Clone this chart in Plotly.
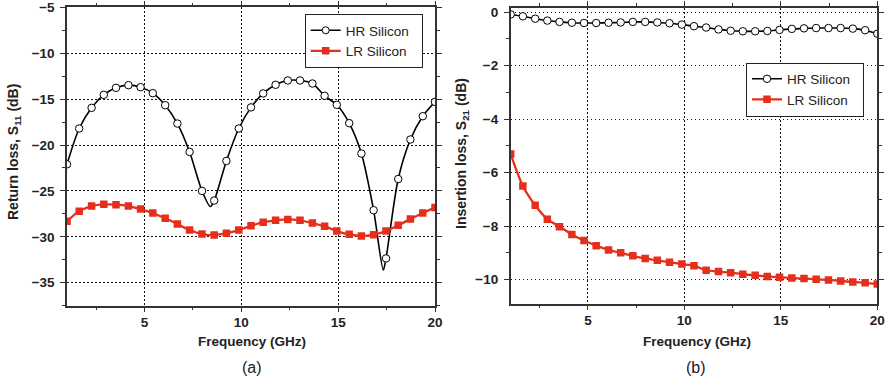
import plotly.graph_objects as go

# ---------------- data ----------------
freq = [1.0, 1.63, 2.27, 2.9, 3.53, 4.17, 4.8, 5.43, 6.07, 6.7, 7.33, 7.97, 8.6, 9.23, 9.87,
        10.5, 11.13, 11.77, 12.4, 13.03, 13.67, 14.3, 14.93, 15.57, 16.2, 16.83, 17.47,
        18.1, 18.73, 19.37, 20.0]

hr_s11 = [-22.1, -18.2, -15.95, -14.53, -13.77, -13.48, -13.7, -14.35, -15.66, -17.66,
          -20.75, -25.0, -26.05, -21.73, -18.2, -15.9, -14.38, -13.44, -12.97, -12.97,
          -13.3, -14.64, -15.62, -17.62, -20.93, -27.1, -32.35, -23.7, -19.4, -16.86, -15.3]
# curve minima between markers
hr_s11_dip_freq = [8.4, 17.33]
hr_s11_dip_val = [-26.7, -33.6]

lr_s11 = [-28.3, -27.2, -26.65, -26.46, -26.5, -26.65, -26.97, -27.4, -27.98, -28.6,
          -29.26, -29.7, -29.8, -29.6, -29.26, -28.8, -28.4, -28.2, -28.1, -28.2,
          -28.5, -28.86, -29.37, -29.73, -29.9, -29.77, -29.37, -28.75, -28.06, -27.4, -26.8]

hr_s21 = [-0.09, -0.16, -0.25, -0.32, -0.37, -0.4, -0.41, -0.41, -0.4, -0.39, -0.37,
          -0.37, -0.39, -0.42, -0.47, -0.53, -0.58, -0.65, -0.7, -0.72, -0.72, -0.71,
          -0.67, -0.63, -0.61, -0.6, -0.6, -0.6, -0.62, -0.68, -0.81]

lr_s21 = [-5.31, -6.5, -7.22, -7.74, -8.02, -8.31, -8.54, -8.73, -8.89, -9.0, -9.11,
          -9.21, -9.28, -9.35, -9.42, -9.48, -9.65, -9.70, -9.74, -9.80, -9.84, -9.88,
          -9.91, -9.94, -9.96, -9.99, -10.01, -10.05, -10.09, -10.12, -10.16]

x_ticks = [5, 10, 15, 20]
x_ticklabels = ["5", "10", "15", "20"]
s11_ticks = [-35, -30, -25, -20, -15, -10, -5]
s11_ticklabels = ["\u221235", "\u221230", "\u221225", "\u221220", "\u221215", "\u221210", "\u22125"]
s21_ticks = [-10, -8, -6, -4, -2, 0]
s21_ticklabels = ["\u221210", "\u22128", "\u22126", "\u22124", "\u22122", "0"]

RED = "#e62e1d"
FONT = "Liberation Sans, Arial, sans-serif"
PAD = "\u00a0\u00a0"

# merge the dip points into the HR S11 line
pairs = sorted([(f, v, 7.5) for f, v in zip(freq, hr_s11)] +
               [(f, v, 0) for f, v in zip(hr_s11_dip_freq, hr_s11_dip_val)])
hr_x = [p[0] for p in pairs]
hr_y = [p[1] for p in pairs]
hr_sz = [p[2] for p in pairs]

fig = go.Figure()

fig.add_trace(go.Scatter(x=hr_x, y=hr_y, mode="lines+markers", name="HR Silicon" + PAD,
                         line=dict(color="black", width=1.6, shape="spline", smoothing=0.8),
                         marker=dict(symbol="circle", size=hr_sz, color="white", opacity=1,
                                     line=dict(color="black", width=1)),
                         xaxis="x", yaxis="y", legend="legend"))
fig.add_trace(go.Scatter(x=freq, y=lr_s11, mode="lines+markers", name="LR Silicon" + PAD,
                         line=dict(color=RED, width=2.3, shape="spline", smoothing=0.8),
                         marker=dict(symbol="square", size=7.5, color=RED),
                         xaxis="x", yaxis="y", legend="legend"))
fig.add_trace(go.Scatter(x=freq, y=hr_s21, mode="lines+markers", name="HR Silicon" + PAD,
                         line=dict(color="black", width=1.6, shape="spline", smoothing=0.8),
                         marker=dict(symbol="circle", size=7.5, color="white",
                                     line=dict(color="black", width=1)),
                         xaxis="x2", yaxis="y2", legend="legend2"))
fig.add_trace(go.Scatter(x=freq, y=lr_s21, mode="lines+markers", name="LR Silicon" + PAD,
                         line=dict(color=RED, width=2.3, shape="spline", smoothing=0.8),
                         marker=dict(symbol="square", size=7.5, color=RED),
                         xaxis="x2", yaxis="y2", legend="legend2"))

W, H = 893, 382
def px(xp):
    return xp / W
def py(yp):
    return 1 - yp / H

def bold(lst):
    return ["<b>%s</b>" % s for s in lst]

axis_common = dict(showline=True, linecolor="#333333", linewidth=1.5, mirror="allticks",
                   ticks="outside", ticklen=5, tickwidth=1.2, tickcolor="#333333",
                   showgrid=True, gridcolor="#111111", griddash="1.5px,2.5px", gridwidth=1.2,
                   zeroline=False, automargin=False,
                   tickfont=dict(family=FONT, size=13.5, color="#222222"))

minor_common = dict(ticks="outside", ticklen=3, tickcolor="#333333", tickwidth=1.2,
                    showgrid=False)

fig.update_layout(
    width=W, height=H,
    margin=dict(l=0, r=0, t=0, b=0, autoexpand=False),
    paper_bgcolor="white", plot_bgcolor="white",
    showlegend=True,
    xaxis=dict(domain=[px(67), px(435)], range=[1, 20], tickvals=x_ticks,
               ticktext=bold(x_ticklabels), ticklabelstandoff=-2,
               minor=dict(tickvals=[2.5, 7.5, 12.5, 17.5], **minor_common),
               anchor="y", **axis_common),
    yaxis=dict(domain=[py(305.7), py(7.3)], range=[-37.5, -5], tickvals=s11_ticks,
               ticktext=bold(s11_ticklabels), ticklabelstandoff=3,
               minor=dict(tickvals=[-37.5, -32.5, -27.5, -22.5, -17.5, -12.5, -7.5],
                          **minor_common),
               anchor="x", **axis_common),
    xaxis2=dict(domain=[px(510.7), px(877.3)], range=[1, 20], tickvals=x_ticks,
                ticktext=bold(x_ticklabels), ticklabelstandoff=-2,
                minor=dict(tickvals=[2.5, 7.5, 12.5, 17.5], **minor_common),
                anchor="y2", **axis_common),
    yaxis2=dict(domain=[py(303.7), py(8)], range=[-10.9, 0.15], tickvals=s21_ticks,
                ticktext=bold(s21_ticklabels), ticklabelstandoff=3,
                minor=dict(tickvals=[-9, -7, -5, -3, -1], **minor_common),
                anchor="x2", **axis_common),
    legend=dict(x=px(422.7), y=py(14), xanchor="right", yanchor="top",
                bgcolor="white", bordercolor="#222222", borderwidth=1,
                font=dict(family=FONT, size=13.5, color="#222222"),
                itemwidth=30, tracegroupgap=0),
    legend2=dict(x=px(864), y=py(62.5), xanchor="right", yanchor="top",
                 bgcolor="white", bordercolor="#222222", borderwidth=1,
                 font=dict(family=FONT, size=13.5, color="#222222"),
                 itemwidth=30, tracegroupgap=0),
)

ann_font_bx = dict(family=FONT, size=13.5, color="#222222", weight="bold")
ann_font_by = dict(family=FONT, size=14, color="#222222", weight="bold")
ann_font = dict(family=FONT, size=16, color="#222222")
fig.add_annotation(text="Return loss, S<sub>11</sub> (dB)", x=px(14), y=py(152),
                   xref="paper", yref="paper", textangle=-90, showarrow=False,
                   xanchor="center", yanchor="middle", font=ann_font_by)
fig.add_annotation(text="Insertion loss, S<sub>21</sub> (dB)", x=px(462), y=py(154),
                   xref="paper", yref="paper", textangle=-90, showarrow=False,
                   xanchor="center", yanchor="middle", font=ann_font_by)
fig.add_annotation(text="Frequency (GHz)", x=px(252), y=py(341), xref="paper", yref="paper",
                   showarrow=False, xanchor="center", yanchor="middle", font=ann_font_bx)
fig.add_annotation(text="Frequency (GHz)", x=px(697), y=py(341.5), xref="paper", yref="paper",
                   showarrow=False, xanchor="center", yanchor="middle", font=ann_font_bx)
fig.add_annotation(text="(a)", x=px(252), y=py(367), xref="paper", yref="paper",
                   showarrow=False, xanchor="center", yanchor="middle", font=ann_font)
fig.add_annotation(text="(b)", x=px(696), y=py(367), xref="paper", yref="paper",
                   showarrow=False, xanchor="center", yanchor="middle", font=ann_font)

fig.write_html("out.html", config=dict(displayModeBar=False),
               post_script="document.body.style.margin='0';document.body.style.padding='0';")
